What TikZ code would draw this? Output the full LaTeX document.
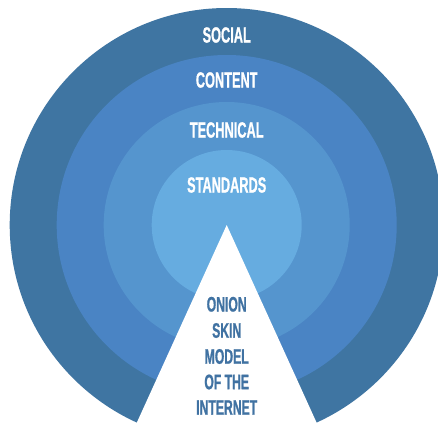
\documentclass[tikz,border=0pt]{standalone}
\usepackage{fontspec}
\newfontfamily\dinfont[FakeStretch=0.58,FakeBold=0.8]{Liberation Sans}
\definecolor{ringA}{RGB}{63,117,162}
\definecolor{ringB}{RGB}{74,132,196}
\definecolor{ringC}{RGB}{85,149,206}
\definecolor{ringD}{RGB}{102,172,224}
\definecolor{labelblue}{RGB}{64,114,162}
\tikzset{
  layerlabel/.style={text=white, font=\dinfont\bfseries\fontsize{22}{25}\selectfont, inner sep=0pt, anchor=center},
  titleline/.style={text=labelblue, font=\dinfont\bfseries\fontsize{21}{24}\selectfont, inner sep=0pt, anchor=center}
}
\begin{document}
\begin{tikzpicture}[x=1pt,y=-1pt]
\useasboundingbox (0,0) rectangle (438,424);
\fill[white] (0,0) rectangle (438,424);
\coordinate (c) at (226.7,225);
\fill[ringA] (c) circle[radius=217pt];
\fill[ringB] (c) circle[radius=170pt];
\fill[ringC] (c) circle[radius=123pt];
\fill[ringD] (c) circle[radius=75pt];
\fill[white] (c) -- (128.9,440) -- (324.5,440) -- cycle;
\node[layerlabel] (social) at (226.7,35) {SOCIAL};
\node[layerlabel] (content) at (226.7,80) {CONTENT};
\node[layerlabel] (technical) at (226.7,130) {TECHNICAL};
\node[layerlabel] (standards) at (226.7,185) {STANDARDS};
\node[titleline] (t1) at (226.7,304.3) {ONION};
\node[titleline] (t2) at (226.7,330.5) {SKIN};
\node[titleline] (t3) at (226.7,356.5) {MODEL};
\node[titleline] (t4) at (226.7,382) {OF THE};
\node[titleline] (t5) at (226.7,407.5) {INTERNET};
\end{tikzpicture}
\end{document}
